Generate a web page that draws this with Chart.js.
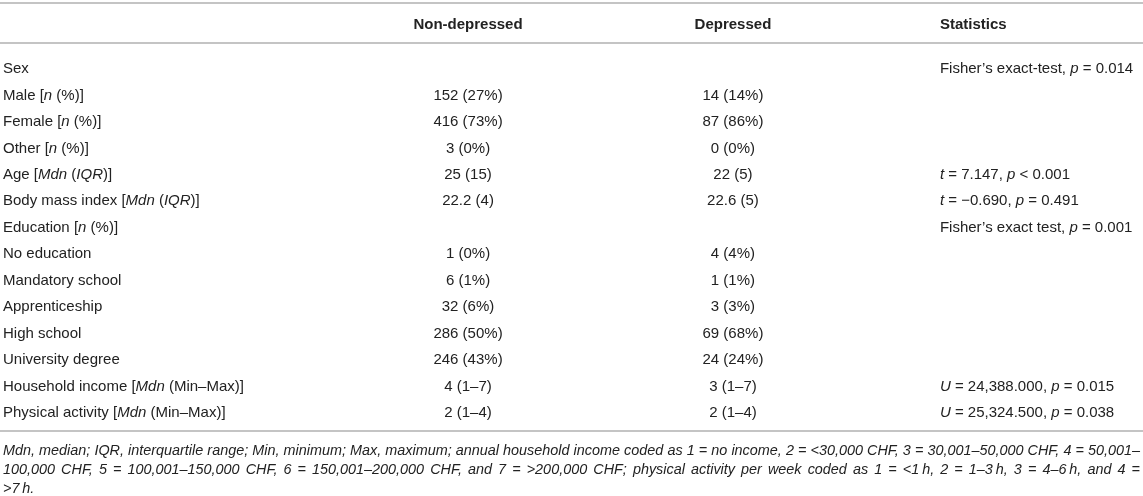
<!DOCTYPE html>
<html>
<head>
<meta charset="utf-8">
<script src="https://cdn.jsdelivr.net/npm/chart.js@4/dist/chart.umd.min.js"></script>
<style>
  html, body { margin: 0; padding: 0; background: #fff; }
  #wrap { width: 1143px; height: 496px; position: relative; }
</style>
</head>
<body>
<div id="wrap"><canvas id="tabela"></canvas></div>
<script>
// texto entre _ _ sai em itálico
const columnHeaders = ['', 'Non-depressed', 'Depressed', 'Statistics']

const rowLabels = [
  'Sex',
  'Male [_n_ (%)]',
  'Female [_n_ (%)]',
  'Other [_n_ (%)]',
  'Age [_Mdn_ (_IQR_)]',
  'Body mass index [_Mdn_ (_IQR_)]',
  'Education [_n_ (%)]',
  'No education',
  'Mandatory school',
  'Apprenticeship',
  'High school',
  'University degree',
  'Household income [_Mdn_ (Min–Max)]',
  'Physical activity [_Mdn_ (Min–Max)]'
]

const nonDepressed = ['', '152 (27%)', '416 (73%)', '3 (0%)', '25 (15)', '22.2 (4)', '',
  '1 (0%)', '6 (1%)', '32 (6%)', '286 (50%)', '246 (43%)', '4 (1–7)', '2 (1–4)']

const depressed = ['', '14 (14%)', '87 (86%)', '0 (0%)', '22 (5)', '22.6 (5)', '',
  '4 (4%)', '1 (1%)', '3 (3%)', '69 (68%)', '24 (24%)', '3 (1–7)', '2 (1–4)']

const statistics = [
  'Fisher’s exact-test, _p_ = 0.014', '', '', '',
  '_t_ = 7.147, _p_ < 0.001',
  '_t_ = −0.690, _p_ = 0.491',
  'Fisher’s exact test, _p_ = 0.001',
  '', '', '', '', '',
  '_U_ = 24,388.000, _p_ = 0.015',
  '_U_ = 25,324.500, _p_ = 0.038'
]

const noteLines = [
  'Mdn, median; IQR, interquartile range; Min, minimum; Max, maximum; annual household income coded as 1 = no income, 2 = <30,000 CHF, 3 = 30,001–50,000 CHF, 4 = 50,001–',
  '100,000 CHF, 5 = 100,001–150,000 CHF, 6 = 150,001–200,000 CHF, and 7 = >200,000 CHF; physical activity per week coded as 1 = <1\u2009h, 2 = 1–3\u2009h, 3 = 4–6\u2009h, and 4 =',
  '>7\u2009h.'
]

// posição das colunas no eixo x (0 = esquerda, 1 = direita)
const colAnchor = [0, 0.409, 0.642, 0.824]
const colAlign = ['left', 'center', 'center', 'left']

const FONT = '"Liberation Sans", Arial, Helvetica, sans-serif'
const INK = '#222'
const RULE = '#b0b0b0'
const AJUSTE_Y = 2   // baseline "middle" fica um pouco alta

function pontos(textos, col) {
  var pts = []
  for (var i = 0; i < textos.length; i++) {
    if (textos[i] != '') pts.push({ x: colAnchor[col], y: rowLabels[i], texto: textos[i] })
  }
  return pts
}

function larguraRica(ctx, str, peso) {
  var partes = str.split('_')
  var w = 0
  for (var i = 0; i < partes.length; i++) {
    ctx.font = (i % 2 ? 'italic ' : '') + peso + ' 15px ' + FONT
    w += ctx.measureText(partes[i]).width
  }
  return w
}

function desenhaRico(ctx, str, x, y, align, peso) {
  peso = peso || 'normal'
  var w = larguraRica(ctx, str, peso)
  var cx = align == 'center' ? x - w / 2 : x
  var partes = str.split('_')
  ctx.textAlign = 'left'
  ctx.textBaseline = 'middle'
  ctx.fillStyle = INK
  for (var i = 0; i < partes.length; i++) {
    ctx.font = (i % 2 ? 'italic ' : '') + peso + ' 15px ' + FONT
    ctx.fillText(partes[i], cx, y + AJUSTE_Y)
    cx += ctx.measureText(partes[i]).width
  }
}

function linhaJustificada(ctx, linha, x0, x1, y, justificar) {
  ctx.font = 'italic 14.4px ' + FONT
  ctx.textAlign = 'left'
  ctx.textBaseline = 'middle'
  ctx.fillStyle = INK
  var palavras = linha.split(' ')
  var total = 0
  for (var i = 0; i < palavras.length; i++) total += ctx.measureText(palavras[i]).width
  var espaco = ctx.measureText(' ').width
  if (justificar && palavras.length > 1) espaco = (x1 - x0 - total) / (palavras.length - 1)
  var cx = x0
  for (var i = 0; i < palavras.length; i++) {
    ctx.fillText(palavras[i], cx, y + AJUSTE_Y)
    cx += ctx.measureText(palavras[i]).width + espaco
  }
}

function regua(ctx, x0, x1, y) {
  ctx.save()
  ctx.strokeStyle = RULE
  ctx.lineWidth = 1.5
  ctx.beginPath()
  ctx.moveTo(x0, y)
  ctx.lineTo(x1, y)
  ctx.stroke()
  ctx.restore()
}

const tabelaPlugin = {
  id: 'tabela',
  afterDatasetsDraw(chart) {
    var ctx = chart.ctx
    var sx = chart.scales.x
    var sy = chart.scales.y
    var y0 = sy.getPixelForValue(0)
    var yN = sy.getPixelForValue(rowLabels.length - 1)

    regua(ctx, 0, chart.width, y0 - 64)
    regua(ctx, 0, chart.width, y0 - 24)
    regua(ctx, 0, chart.width, yN + 20)

    for (var c = 1; c < columnHeaders.length; c++) {
      desenhaRico(ctx, columnHeaders[c], sx.getPixelForValue(colAnchor[c]), y0 - 44, colAlign[c], 'bold')
    }

    chart.data.datasets.forEach(function (ds, d) {
      var meta = chart.getDatasetMeta(d)
      meta.data.forEach(function (el, i) {
        desenhaRico(ctx, ds.data[i].texto, el.x, el.y, ds.alinhamento)
      })
    })

    for (var l = 0; l < noteLines.length; l++) {
      linhaJustificada(ctx, noteLines[l], sx.left, sx.right, yN + 38 + l * 19.2, l < noteLines.length - 1)
    }
  }
}

new Chart(document.getElementById('tabela'), {
  type: 'scatter',
  data: {
    datasets: [
      { label: 'Variable', data: pontos(rowLabels, 0), alinhamento: colAlign[0], pointRadius: 0 },
      { label: columnHeaders[1], data: pontos(nonDepressed, 1), alinhamento: colAlign[1], pointRadius: 0 },
      { label: columnHeaders[2], data: pontos(depressed, 2), alinhamento: colAlign[2], pointRadius: 0 },
      { label: columnHeaders[3], data: pontos(statistics, 3), alinhamento: colAlign[3], pointRadius: 0 }
    ]
  },
  options: {
    responsive: true,
    maintainAspectRatio: false,
    animation: false,
    events: [],
    layout: { padding: { top: 53.8, bottom: 71.9, left: 3, right: 3 } },
    plugins: { legend: { display: false }, tooltip: { enabled: false } },
    scales: {
      x: { type: 'linear', min: 0, max: 1, display: false },
      y: { type: 'category', labels: rowLabels, offset: true, display: false }
    }
  },
  plugins: [tabelaPlugin]
});
</script>
</body>
</html>
